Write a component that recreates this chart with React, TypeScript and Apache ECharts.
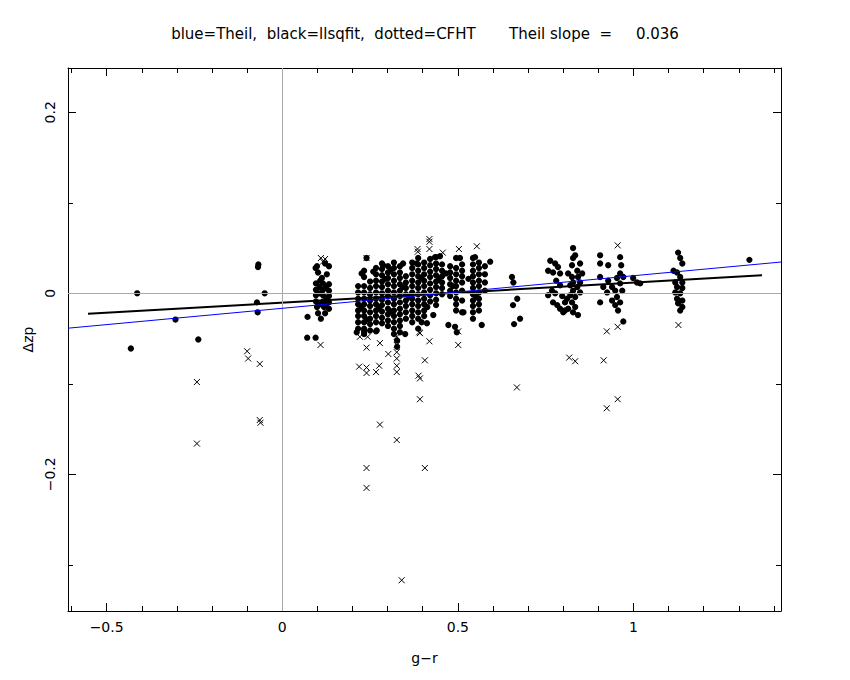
import React, { useEffect, useRef } from "react";
import * as echarts from "echarts";

const NB = "\u00a0";
const titleText =
  "blue=Theil," + NB + " black=llsqfit," + NB + " dotted=CFHT" + NB.repeat(7) + "Theil" + NB + "slope" + NB.repeat(2) + "=" + NB.repeat(5) + "0.036";

const xMajorTicks = [-0.5, 0, 0.5, 1];
const xMinorTicks = [-0.6, -0.5, -0.4, -0.3, -0.2, -0.1, 0, 0.1, 0.2, 0.3, 0.4, 0.5, 0.6, 0.7, 0.8, 0.9, 1.0, 1.1, 1.2, 1.3, 1.4];
const yMajorTicks = [-0.2, 0, 0.2];
const yMinorTicks = [-0.3, -0.2, -0.1, 0, 0.1, 0.2];

const theilFit: [number, number][] = [[-0.61, -0.0385], [1.42, 0.0346]];
const lsqFit: [number, number][] = [[-0.553, -0.0225], [1.366, 0.0199]];

const dotsLeft: [number, number][] = [
  [-0.413, 0.0], [-0.431, -0.061], [-0.304, -0.029], [-0.239, -0.051],
  [-0.069, 0.029], [-0.068, 0.032], [-0.05, 0.0], [-0.072, -0.01], [-0.07, -0.021],
  [0.072, -0.026], [0.071, -0.049], [0.095, -0.049],
];

const dotsColA: [number, number][] = [
  [0.099, 0.03], [0.122, 0.033], [0.133, 0.03], [0.095, 0.028], [0.102, 0.023], [0.127, 0.021],
  [0.113, 0.017], [0.096, 0.011], [0.116, 0.011], [0.133, 0.01], [0.096, 0.004], [0.116, 0.004],
  [0.133, 0.003], [0.096, -0.002], [0.116, -0.002], [0.133, -0.003], [0.096, -0.009], [0.116, -0.009],
  [0.133, -0.01], [0.099, -0.015], [0.119, -0.015], [0.133, -0.017], [0.102, -0.022], [0.122, -0.022],
  [0.11, -0.028], [0.106, 0.007], [0.126, -0.006], [0.108, -0.012], [0.106, 0.0], [0.124, 0.007],
  [0.108, 0.014], [0.124, -0.013],
];

const centralCols: [number, number[]][] = [
  [0.216, [0.008, 0.001, -0.006, -0.012, -0.019, -0.025, -0.032, -0.039]],
  [0.233, [0.025, 0.018, 0.008, 0.001, -0.006, -0.012, -0.019, -0.025, -0.032, -0.039, -0.045]],
  [0.25, [0.013, 0.006, -0.001, -0.008, -0.014, -0.021, -0.028, -0.034, -0.041]],
  [0.267, [0.028, 0.021, 0.014, 0.008, 0.001, -0.006, -0.012, -0.019, -0.025, -0.032]],
  [0.284, [0.033, 0.027, 0.02, 0.013, 0.007, 0.0, -0.007, -0.013, -0.02, -0.027, -0.033]],
  [0.301, [0.03, 0.023, 0.017, 0.01, 0.003, -0.003, -0.01, -0.017, -0.023, -0.03, -0.036]],
  [0.318, [0.034, 0.028, 0.021, 0.014, 0.008, 0.001, -0.006, -0.012, -0.019, -0.025, -0.032, -0.039, -0.045]],
  [0.335, [0.03, 0.023, 0.017, 0.01, 0.003, -0.003, -0.01, -0.017, -0.023, -0.03, -0.036, -0.043]],
  [0.352, [0.019, 0.012, 0.006, -0.001, -0.008, -0.014, -0.021, -0.028]],
  [0.37, [0.034, 0.028, 0.021, 0.014, 0.008, 0.001, -0.006, -0.012, -0.019, -0.025, -0.032]],
  [0.387, [0.039, 0.032, 0.025, 0.019, 0.012, 0.006, -0.001, -0.008, -0.014, -0.021, -0.028]],
  [0.404, [0.034, 0.028, 0.021, 0.014, 0.008, 0.001, -0.006, -0.012, -0.019, -0.025]],
  [0.421, [0.038, 0.031, 0.024, 0.018, 0.011, 0.004, -0.002, -0.009]],
  [0.438, [0.04, 0.033, 0.027, 0.02, 0.013, 0.007, 0.0, -0.007, -0.013]],
  [0.455, [0.032, 0.025, 0.019, 0.012, 0.006, -0.001]],
  [0.478, [0.03, 0.023, 0.017, 0.01, 0.003, -0.003]],
  [0.495, [0.039, 0.028, 0.021, 0.014, 0.008, 0.001, -0.006, -0.012, -0.019]],
  [0.512, [0.032, 0.025, 0.019, 0.012, 0.003, -0.008, -0.021]],
  [0.543, [0.039, 0.032, 0.025, 0.019, 0.012, 0.006, -0.001, -0.008, -0.014, -0.021, -0.028]],
  [0.56, [0.034, 0.028, 0.021, 0.014, 0.008, 0.001, -0.006, -0.012, -0.019]],
  [0.577, [0.03, 0.021, 0.012, 0.003]],
];

const dotsCentralExtra: [number, number][] = [
  [0.24, 0.039], [0.226, 0.022], [0.287, 0.031], [0.344, 0.033], [0.383, 0.033], [0.435, 0.04],
  [0.449, 0.041], [0.506, 0.039], [0.549, 0.04], [0.592, 0.035], [0.212, -0.043], [0.269, -0.041],
  [0.35, -0.045], [0.387, -0.039], [0.397, -0.032], [0.412, -0.033], [0.43, -0.024], [0.473, -0.035],
  [0.492, -0.037], [0.516, -0.021], [0.568, -0.035], [0.327, -0.052], [0.327, -0.059], [0.233, -0.042],
  [0.267, -0.042], [0.497, -0.043], [0.259, 0.024], [0.293, 0.016], [0.31, -0.02], [0.343, 0.007],
  [0.362, -0.004], [0.396, 0.017], [0.413, -0.015], [0.446, 0.016], [0.466, 0.022], [0.486, 0.008],
  [0.53, 0.016], [0.552, -0.004], [0.225, -0.016], [0.242, -0.029], [0.276, -0.016], [0.309, 0.026],
];

const dotsMid: [number, number][] = [
  [0.654, 0.018], [0.658, 0.012], [0.669, -0.006], [0.657, -0.013], [0.677, -0.028], [0.66, -0.034],
];

const dotsRight: [number, number][] = [
  [0.763, 0.036], [0.777, 0.033], [0.785, 0.029], [0.757, 0.025], [0.771, 0.023], [0.791, 0.022],
  [0.78, 0.014], [0.791, 0.009], [0.768, 0.003], [0.777, 0.0], [0.757, -0.002], [0.797, -0.003],
  [0.771, -0.01], [0.783, -0.013], [0.791, -0.017], [0.805, -0.01], [0.8, -0.021],
  [0.828, 0.05], [0.834, 0.042], [0.828, 0.039], [0.825, 0.031], [0.848, 0.033], [0.84, 0.025],
  [0.814, 0.022], [0.825, 0.018], [0.842, 0.018], [0.854, 0.022], [0.828, 0.012], [0.848, 0.012],
  [0.82, 0.009], [0.84, 0.007], [0.828, 0.003], [0.848, 0.001], [0.82, -0.002], [0.834, -0.004],
  [0.811, -0.006], [0.825, -0.01], [0.834, -0.015], [0.814, -0.017], [0.805, -0.019], [0.842, -0.024],
  [0.828, -0.021],
  [0.905, 0.042], [0.905, 0.033], [0.928, 0.031], [0.962, 0.04], [0.965, 0.031], [0.962, 0.022],
  [0.905, 0.018], [0.928, 0.014], [0.953, 0.017], [0.971, 0.018], [0.914, 0.007], [0.939, 0.007],
  [0.962, 0.011], [0.948, 0.003], [0.968, 0.003], [0.925, 0.001], [0.953, -0.004], [0.939, -0.008],
  [0.962, -0.01], [0.948, -0.013], [0.905, -0.01], [0.956, -0.019], [0.971, -0.031],
  [0.999, 0.017], [1.01, 0.012], [1.019, 0.011],
  [1.127, 0.045], [1.133, 0.039], [1.139, 0.033], [1.114, 0.025], [1.124, 0.023], [1.133, 0.018],
  [1.119, 0.012], [1.139, 0.012], [1.124, 0.007], [1.139, 0.006], [1.119, 0.001], [1.133, 0.0],
  [1.124, -0.006], [1.139, -0.008], [1.127, -0.011], [1.139, -0.015], [1.133, -0.019],
  [1.33, 0.037],
];

const crosses: [number, number][] = [
  [-0.243, -0.098], [-0.243, -0.166], [-0.1, -0.064], [-0.097, -0.072], [-0.064, -0.078],
  [-0.064, -0.14], [-0.062, -0.143],
  [0.11, 0.039], [0.122, 0.038], [0.116, 0.035], [0.109, -0.057],
  [0.24, 0.039], [0.221, -0.048], [0.243, -0.048], [0.24, -0.06], [0.278, -0.055], [0.219, -0.081],
  [0.24, -0.082], [0.24, -0.088], [0.267, -0.087], [0.276, -0.08], [0.302, -0.067],
  [0.326, -0.048], [0.326, -0.057], [0.326, -0.065], [0.326, -0.072], [0.326, -0.08], [0.326, -0.087],
  [0.419, -0.053], [0.406, -0.074], [0.388, -0.091], [0.392, -0.094], [0.392, -0.117], [0.501, -0.057],
  [0.392, -0.044], [0.39, -0.043], [0.501, -0.042],
  [0.278, -0.145], [0.326, -0.162], [0.24, -0.193], [0.406, -0.193], [0.24, -0.215], [0.34, -0.317],
  [0.419, 0.06], [0.419, 0.057], [0.385, 0.049], [0.386, 0.046], [0.419, 0.049], [0.457, 0.045],
  [0.503, 0.049], [0.554, 0.052],
  [0.668, -0.104],
  [0.955, 0.053], [0.924, -0.042], [0.955, -0.037], [1.128, -0.035], [0.817, -0.071], [0.834, -0.075],
  [0.915, -0.074], [0.955, -0.117], [0.924, -0.127],
];

const X_MIN = -0.61;
const X_MAX = 1.42;
const Y_MIN = -0.351;
const Y_MAX = 0.249;

const FONT = "DejaVu Sans";

const fmt = (v: number) => (v === 0 ? "0" : String(v).replace("-", "\u2212"));

function App() {
  const ref = useRef<HTMLDivElement>(null);
  useEffect(() => {
    document.body.style.margin = "0";
    if (!ref.current) return;
    const chart = echarts.init(ref.current, null, { renderer: "svg" });

    const centralDots: [number, number][] = centralCols.flatMap(([x, ys]) =>
      ys.map((y) => [x, y] as [number, number])
    );
    const allDots = [...dotsLeft, ...dotsColA, ...centralDots, ...dotsCentralExtra, ...dotsMid, ...dotsRight];

    const baseX = (position: "top" | "bottom", ticks: number[], len: number, showLine: boolean, main: boolean) => ({
      type: "value",
      position,
      min: X_MIN,
      max: X_MAX,
      axisLine: { show: showLine, onZero: false, lineStyle: { color: "#000", width: 1 } },
      axisTick: { show: true, inside: true, length: len, customValues: ticks, lineStyle: { color: "#000", width: 1 } },
      axisLabel: main
        ? { show: true, customValues: xMajorTicks, formatter: fmt, margin: 9, color: "#000", fontSize: 14, fontFamily: FONT }
        : { show: false },
      splitLine: { show: false },
      name: main ? "g\u2212r" : "",
      nameLocation: "middle",
      nameGap: 40,
      nameTextStyle: { color: "#000", fontSize: 14, fontFamily: FONT },
    });
    const baseY = (position: "left" | "right", ticks: number[], len: number, showLine: boolean, main: boolean) => ({
      type: "value",
      position,
      min: Y_MIN,
      max: Y_MAX,
      axisLine: { show: showLine, onZero: false, lineStyle: { color: "#000", width: 1 } },
      axisTick: { show: true, inside: true, length: len, customValues: ticks, lineStyle: { color: "#000", width: 1 } },
      axisLabel: main
        ? { show: true, customValues: yMajorTicks, formatter: fmt, rotate: 90, margin: 11, color: "#000", fontSize: 14, fontFamily: FONT }
        : { show: false },
      splitLine: { show: false },
      name: main ? "\u0394zp" : "",
      nameLocation: "middle",
      nameGap: 21,
      nameTextStyle: { color: "#000", fontSize: 14, fontFamily: FONT },
    });

    chart.setOption({
      animation: false,
      backgroundColor: "#fff",
      title: {
        text: titleText,
        left: "center",
        top: 21,
        textStyle: { color: "#000", fontSize: 15, fontWeight: "normal", fontFamily: FONT },
      },
      grid: { left: 68, right: 69, top: 68, bottom: 69, containLabel: false },
      xAxis: [
        baseX("bottom", xMajorTicks, 8, true, true),
        baseX("bottom", xMinorTicks, 5, false, false),
        baseX("top", xMajorTicks, 8, true, false),
        baseX("top", xMinorTicks, 5, false, false),
      ],
      yAxis: [
        baseY("left", yMajorTicks, 8, true, true),
        baseY("left", yMinorTicks, 5, false, false),
        baseY("right", yMajorTicks, 8, true, false),
        baseY("right", yMinorTicks, 5, false, false),
      ],
      series: [
        {
          type: "scatter",
          name: "dots",
          data: allDots,
          symbol: "circle",
          symbolSize: 6.3,
          itemStyle: { color: "#000", opacity: 1 },
          z: 2,
          silent: true,
        },
        {
          type: "scatter",
          name: "crosses",
          data: crosses,
          symbol: "path://M0 0L10 10M10 0L0 10",
          symbolSize: 6,
          itemStyle: { color: "none", borderColor: "#000", borderWidth: 1, opacity: 1 },
          z: 2,
          silent: true,
        },
        {
          type: "line",
          name: "ref",
          data: [],
          z: 3,
          silent: true,
          markLine: {
            silent: true,
            symbol: ["none", "none"],
            label: { show: false },
            lineStyle: { color: "#aaaaaa", width: 1, type: "solid" },
            data: [{ xAxis: 0 }, { yAxis: 0 }],
          },
        },
        {
          type: "line",
          name: "lsq",
          data: lsqFit,
          showSymbol: false,
          symbol: "none",
          lineStyle: { color: "#000", width: 2 },
          z: 4,
          silent: true,
        },
        {
          type: "line",
          name: "theil",
          data: theilFit,
          showSymbol: false,
          symbol: "none",
          lineStyle: { color: "#0000ff", width: 1 },
          z: 5,
          silent: true,
        },
      ],
    });
    return () => chart.dispose();
  }, []);
  return <div ref={ref} style={{ width: 850, height: 680 }} />;
}

export default App;
